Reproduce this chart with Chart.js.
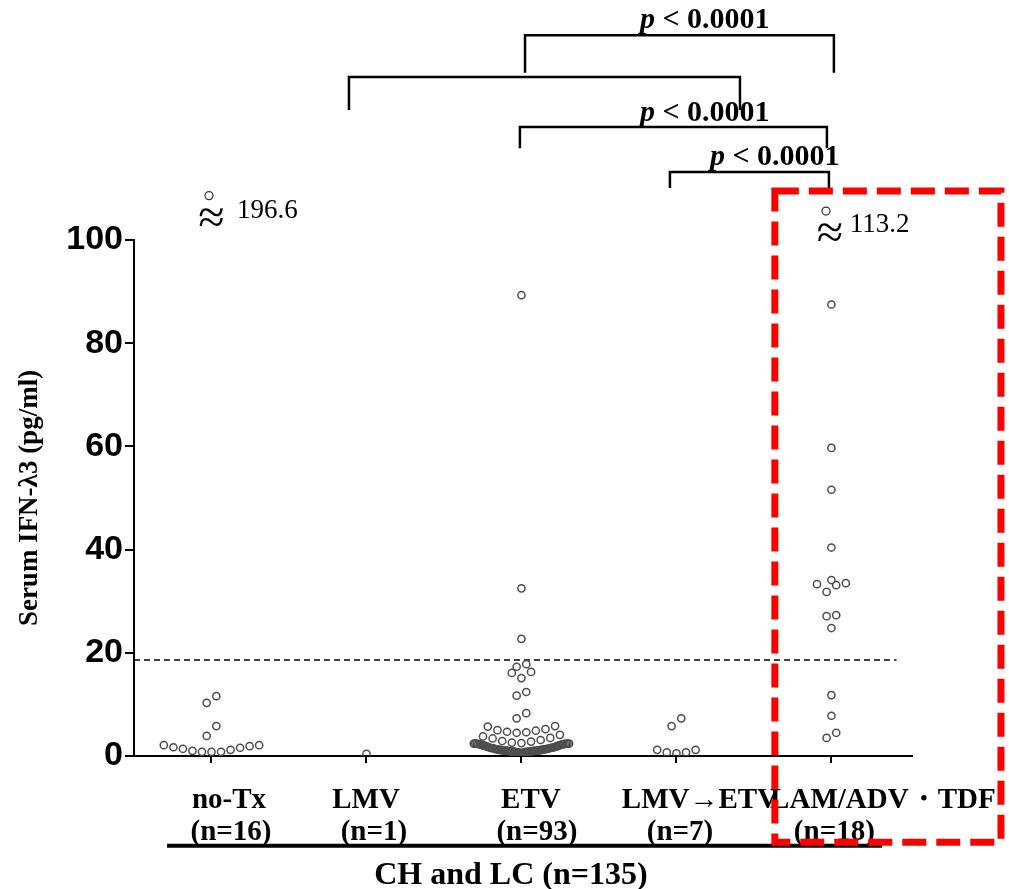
<!DOCTYPE html>
<html lang="ja">
<head>
<meta charset="UTF-8">
<title>Serum IFN-λ3</title>
<script src="https://cdn.jsdelivr.net/npm/chart.js@4"></script>
<style>
  html, body { margin: 0; padding: 0; background: #fff; }
  #chart { display: block; }
</style>
</head>
<body>
<canvas id="chart" width="1009" height="889"></canvas>
<script>
// values
const categories = ['no-Tx', 'LMV', 'ETV', 'LMV→ETV', 'LAM/ADV・TDF'];
const groupSizes = ['(n=16)', '(n=1)', '(n=93)', '(n=7)', '(n=18)'];
const yTicks = [0, 20, 40, 60, 80, 100];

const noTxValues = [2.1, 1.9, 1.6, 1.2, 0.8, 0.8, 0.8, 1.0, 1.4, 1.7, 2.1, 3.9, 5.8, 10.3, 11.6];
const lmvValues = [0.4];
const etvValues = [
  89.3, 32.5, 22.7, 17.8, 17.3, 16.3, 16.1, 15.1, 12.4, 11.7, 8.3, 7.3,
  4.5, 4.6, 4.7, 4.9, 5.0, 5.2, 5.7, 5.8,
  2.4, 2.4, 2.5, 2.6, 2.8, 2.9, 3.1, 3.4, 3.5, 3.8, 4.1,
  0.5, 0.6, 0.6, 0.7, 0.7, 0.7, 0.8, 0.8, 0.8, 0.8, 0.8, 0.9, 0.9, 0.9,
  0.9, 0.9, 1.0, 1.0, 1.0, 1.0, 1.0, 1.1, 1.1, 1.1, 1.1, 1.1, 1.2, 1.2,
  1.2, 1.2, 1.3, 1.3, 1.3, 1.3, 1.4, 1.4, 1.4, 1.5, 1.5, 1.5, 1.6, 1.6,
  1.6, 1.7, 1.7, 1.8, 1.8, 1.9, 1.9, 2.0, 2.0, 2.1, 2.1, 2.2, 2.2, 2.3,
  2.3, 2.3, 2.3, 2.4, 2.4, 2.4, 2.4
];
const lmvEtvValues = [1.2, 0.7, 0.5, 0.7, 1.2, 5.8, 7.3];
const lamValues = [87.5, 59.7, 51.6, 40.4, 33.5, 33.1, 34.1, 31.8, 33.3, 27.1, 27.3, 24.8, 11.8, 7.8, 4.5, 3.5];
const offScaleValues = [196.6, null, null, null, 113.2];
const cutoff = 18.6;
const pLabels = ['p < 0.0001', '', 'p < 0.0001', 'p < 0.0001'];
const groupLabel = 'CH and LC (n=135)';

const groups = [noTxValues, lmvValues, etvValues, lmvEtvValues, lamValues];

// layout (x in category units, y in pg/ml units, beyond the axis where needed)
const ROW_SPAN = 1.95;
const DOT_STEP = 0.062;
const MAX_SPREAD = 0.615;
const CUTOFF_END = 4.42;
const BRACKETS = [
  { x0: 2.023, x1: 4.016, bar: 139.7, leg: 132.4, lx: 2.765, ly: 141.0 },
  { x0: 0.887, x1: 3.410, bar: 131.6, leg: 125.2 },
  { x0: 1.990, x1: 3.971, bar: 121.9, leg: 117.8, lx: 2.765, ly: 123.0 },
  { x0: 2.958, x1: 3.984, bar: 113.2, leg: 110.1, lx: 3.216, ly: 114.6 }
];
const OFF_MARK = [
  { cx: -0.016, cy: 108.6, wx: 0.0, wy: 101.3, tx: 0.165, ty: 104.3 },
  null, null, null,
  { cx: 3.965, cy: 105.6, wx: 3.99, wy: 98.5, tx: 4.119, ty: 101.6 }
];
const NAME_DX = [0.113, 0.997, 2.061, 3.152, 4.332];
const SIZE_DX = [0.126, 1.048, 2.1, 3.023, 4.019];
const NAME_Y = -10.1, SIZE_Y = -16.3;

const SERIF = "'Liberation Serif', 'Times New Roman', serif";
const SANS = "'Liberation Sans', Arial, sans-serif";

// GraphPad-like column scatter: nearby values share a row, lowest in the middle
function swarm(values, cat) {
  const sorted = [...values].sort((a, b) => a - b);
  const rows = [];
  sorted.forEach(v => {
    const row = rows[rows.length - 1];
    if (row && v - row[0] < ROW_SPAN) row.push(v);
    else rows.push([v]);
  });
  const pts = [];
  rows.forEach(row => {
    const n = row.length;
    const step = n > 1 ? Math.min(DOT_STEP, MAX_SPREAD / (n - 1)) : 0;
    const slots = [];
    for (let k = 0; k < n; k++) slots.push((k - (n - 1) / 2) * step);
    slots.sort((a, b) => Math.abs(a) - Math.abs(b) || a - b);
    row.forEach((v, k) => pts.push({ x: cat + slots[k], y: v }));
  });
  return pts;
}

const datasets = groups.map((vals, i) => ({
  label: categories[i],
  data: swarm(vals, i),
  pointRadius: 3.6,
  pointBorderWidth: 1.5,
  pointBorderColor: '#4d4d4d',
  pointBackgroundColor: 'rgba(255,255,255,0)',
  showLine: false
}));
datasets.push({
  type: 'line',
  label: 'cutoff',
  data: [{ x: -0.5, y: cutoff }, { x: CUTOFF_END, y: cutoff }],
  borderColor: '#000',
  borderWidth: 1.5,
  borderDash: [6, 4],
  pointRadius: 0
});

const extras = {
  id: 'extras',
  afterDraw(chart) {
    const { ctx, scales: { x, y } } = chart;
    const X = v => x.getPixelForValue(v);
    const Y = v => y.getPixelForValue(v);
    ctx.save();
    ctx.fillStyle = '#000';
    ctx.strokeStyle = '#000';

    // significance brackets
    ctx.lineWidth = 2.5;
    BRACKETS.forEach((b, i) => {
      ctx.beginPath();
      ctx.moveTo(X(b.x0), Y(b.leg));
      ctx.lineTo(X(b.x0), Y(b.bar));
      ctx.lineTo(X(b.x1), Y(b.bar));
      ctx.lineTo(X(b.x1), Y(b.leg));
      ctx.stroke();
      const label = pLabels[i];
      if (!label) return;
      ctx.textAlign = 'left';
      ctx.textBaseline = 'alphabetic';
      ctx.font = `italic bold 30px ${SERIF}`;
      const head = label.charAt(0);
      ctx.fillText(head, X(b.lx), Y(b.ly));
      const w = ctx.measureText(head).width;
      ctx.font = `bold 30px ${SERIF}`;
      ctx.fillText(label.slice(1), X(b.lx) + w, Y(b.ly));
    });

    // off-scale values
    offScaleValues.forEach((v, i) => {
      const m = OFF_MARK[i];
      if (v === null || !m) return;
      ctx.lineWidth = 1.2;
      ctx.strokeStyle = '#333';
      ctx.beginPath();
      ctx.arc(X(m.cx), Y(m.cy), 4, 0, Math.PI * 2);
      ctx.stroke();
      ctx.textAlign = 'center';
      ctx.font = `48px ${SERIF}`;
      ctx.fillText('≈', X(m.wx), Y(m.wy));
      ctx.textAlign = 'left';
      ctx.font = `27px ${SERIF}`;
      ctx.fillText(v.toFixed(1), X(m.tx), Y(m.ty));
    });

    // category labels
    ctx.textAlign = 'center';
    ctx.font = `bold 29px ${SERIF}`;
    categories.forEach((c, i) => {
      ctx.fillText(c, X(NAME_DX[i]), Y(NAME_Y));
      ctx.fillText(groupSizes[i], X(SIZE_DX[i]), Y(SIZE_Y));
    });

    // group line
    ctx.strokeStyle = '#000';
    ctx.lineWidth = 4;
    ctx.beginPath();
    ctx.moveTo(X(-0.287), Y(-17.4));
    ctx.lineTo(X(4.326), Y(-17.4));
    ctx.stroke();
    ctx.font = `bold 32px ${SERIF}`;
    ctx.fillText(groupLabel, X(1.932), Y(-24.8));

    // highlight box
    ctx.strokeStyle = '#ff0000';
    ctx.lineWidth = 7;
    ctx.setLineDash([24, 10]);
    ctx.strokeRect(X(3.635), Y(109.5), X(5.094) - X(3.635), Y(-16.7) - Y(109.5));
    ctx.restore();
  }
};

new Chart(document.getElementById('chart'), {
  type: 'scatter',
  data: { datasets },
  plugins: [extras],
  options: {
    responsive: false,
    devicePixelRatio: 1,
    animation: false,
    layout: { padding: { top: 240, right: 97, left: 0, bottom: 0 } },
    plugins: { legend: { display: false }, tooltip: { enabled: false } },
    scales: {
      x: {
        type: 'linear',
        min: -0.5,
        max: 4.52,
        afterBuildTicks: s => { s.ticks = categories.map((_, i) => ({ value: i })); },
        afterFit: s => { s.height = 133; },
        ticks: { display: false },
        grid: { drawOnChartArea: false, drawTicks: true, tickLength: 7, color: '#000', lineWidth: 2 },
        border: { color: '#000', width: 2 }
      },
      y: {
        min: 0,
        max: 100,
        afterBuildTicks: s => { s.ticks = yTicks.map(v => ({ value: v })); },
        afterFit: s => { s.width = 134; },
        ticks: { color: '#000', padding: 2, font: { family: SANS, size: 34, weight: 'bold' } },
        grid: { drawOnChartArea: false, drawTicks: true, tickLength: 9, color: '#000', lineWidth: 2 },
        border: { color: '#000', width: 2 },
        title: {
          display: true,
          text: 'Serum IFN-λ3 (pg/ml)',
          color: '#000',
          font: { family: SERIF, size: 27, weight: 'bold' },
          padding: { top: 14, bottom: 0 }
        }
      }
    }
  }
});
</script>
</body>
</html>
